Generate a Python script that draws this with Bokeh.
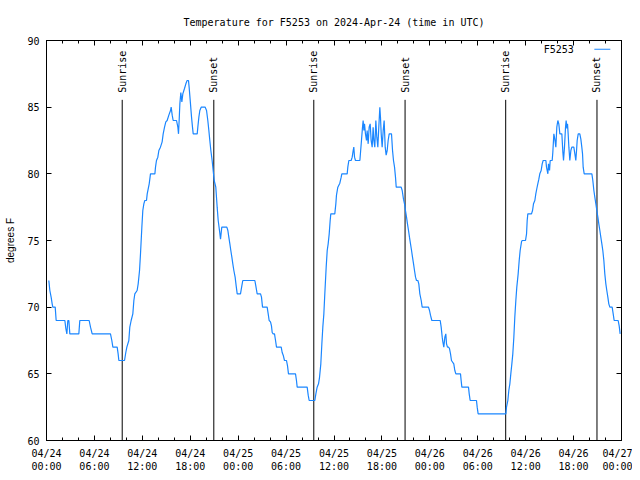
import math
from bokeh.plotting import figure
from bokeh.models import (FixedTicker, LinearAxis, Range1d, Label, BoxAnnotation,
                          CustomJSTickFormatter, ColumnDataSource)
from bokeh.core.properties import value
from bokeh.embed import file_html
from bokeh.resources import INLINE

TITLE = "Temperature for F5253 on 2024-Apr-24 (time in UTC)"
SERIES_NAME = "F5253"
Y_LABEL = "degrees F"

# hours since 2024-04-24 00:00 UTC
HOURS = [
    0.29, 0.42, 0.58, 0.71, 0.79, 1.09, 1.21, 2.30, 2.42, 2.55, 2.67, 2.80, 2.92,
    4.05, 4.17, 5.34, 5.51, 5.72, 8.01, 8.18, 8.31, 8.85, 8.97, 9.06, 9.77, 9.93,
    10.06, 10.31, 10.43, 10.60, 10.81, 10.94, 11.06, 11.35, 11.48, 11.65, 11.77,
    11.94, 12.06, 12.19, 12.31, 12.52, 12.61, 12.86, 13.02, 13.57, 13.65, 13.77,
    13.94, 14.07, 14.27, 14.48, 14.61, 14.78, 14.94, 15.11, 15.32, 15.53, 15.61,
    15.74, 15.86, 16.28, 16.45, 16.53, 16.61, 16.70, 16.82, 16.95, 17.07, 17.28,
    17.45, 17.61, 17.78, 17.86, 18.03, 18.16, 18.28, 18.37, 18.87, 18.95, 19.08,
    19.20, 19.37, 19.87, 20.04, 20.20, 20.33, 20.45, 20.58, 20.74, 20.87, 21.00,
    21.20, 21.37, 21.50, 21.66, 21.79, 21.95, 22.58, 22.71, 22.83, 22.96, 23.08,
    23.21, 23.33, 23.46, 23.62, 23.75, 23.88, 24.29, 24.46, 24.58, 26.09, 26.21,
    26.38, 26.80, 26.92, 27.05, 27.63, 27.76, 27.88, 28.05, 28.17, 28.26, 28.38,
    28.55, 28.68, 28.80, 29.39, 29.51, 29.64, 29.80, 30.05, 30.18, 30.30, 31.18,
    31.30, 31.39, 32.64, 32.77, 32.89, 33.60, 33.73, 33.89, 34.06, 34.18, 34.35,
    34.48, 34.60, 34.73, 34.85, 35.02, 35.15, 35.27, 35.40, 35.52, 35.60, 36.10,
    36.23, 36.31, 36.48, 36.73, 36.90, 36.98, 37.65, 37.73, 37.86, 38.15, 38.28,
    38.40, 38.48, 38.57, 38.69, 39.24, 39.32, 39.44, 39.57, 39.65, 39.74, 39.82,
    39.94, 40.07, 40.15, 40.28, 40.40, 40.53, 40.65, 40.78, 40.90, 40.99, 41.11,
    41.24, 41.36, 41.49, 41.61, 41.74, 41.82, 41.91, 42.03, 42.16, 42.28, 42.41,
    42.53, 42.66, 42.78, 42.91, 43.20, 43.33, 43.45, 43.58, 43.70, 43.79, 44.41,
    44.54, 44.70, 44.83, 44.95, 45.08, 45.20, 45.33, 45.45, 45.58, 45.71, 45.83,
    45.96, 46.08, 46.21, 46.33, 46.50, 46.62, 46.75, 46.92, 47.04, 47.83, 47.96,
    48.08, 48.25, 49.30, 49.42, 49.55, 49.63, 49.75, 49.88, 50.00, 50.09, 50.21,
    50.34, 50.46, 50.59, 50.71, 51.00, 51.13, 51.26, 51.84, 51.92, 52.01, 52.84,
    52.93, 53.05, 53.84, 53.93, 54.05, 57.52, 57.60, 57.77, 57.89, 58.02, 58.14,
    58.27, 58.39, 58.52, 58.64, 58.77, 58.89, 59.06, 59.19, 59.31, 59.48, 59.56,
    59.98, 60.11, 60.19, 60.27, 60.73, 60.86, 60.98, 61.15, 61.27, 61.40, 61.52,
    61.65, 61.77, 61.94, 62.07, 62.19, 62.53, 62.61, 62.78, 62.86, 62.99, 63.07,
    63.32, 63.40, 63.53, 63.65, 63.78, 63.90, 64.03, 64.15, 64.28, 64.53, 64.66,
    64.74, 64.86, 64.99, 65.07, 65.16, 65.24, 65.32, 65.41, 65.53, 65.66, 65.78,
    66.03, 66.16, 66.28, 66.37, 66.45, 66.58, 66.78, 66.91, 67.03, 67.12, 67.20,
    67.33, 68.29, 68.41, 68.54, 68.66, 68.79, 68.91, 69.04, 69.16, 69.29, 69.41,
    69.54, 69.66, 69.79, 69.91, 70.04, 70.16, 70.29, 70.41, 70.54, 70.83, 70.96,
    71.08, 71.58, 71.71, 71.83,
]
TEMP_F = [
    72, 71.25, 70.75, 70.25, 70, 70, 69, 69, 68.4, 68, 69, 69, 68,
    68, 69, 69, 68.5, 68, 68, 67.5, 67, 67, 66.5, 66, 66, 66.6,
    67, 67.5, 68.5, 69, 69.5, 70.5, 71, 71.25, 71.75, 72.75, 74,
    76, 77.25, 77.75, 78, 78, 78.5, 79.25, 80, 80, 80.5, 81,
    81.25, 81.75, 82, 82.4, 83, 83.5, 83.9, 84, 84.4, 84.75, 85,
    84.4, 84, 84, 83.5, 83, 84, 85.25, 86.1, 85.4, 86, 86.4,
    86.75, 87, 87, 86.5, 85.25, 84.25, 83.5, 83, 83, 83.5, 84.25,
    84.75, 85, 85, 84.75, 84, 83.25, 82.5, 81.75, 81, 80.25, 79.5,
    79, 77.5, 76.5, 75.75, 75.1, 76, 76, 75.75, 75.25, 74.75, 74.25,
    73.75, 73.25, 72.75, 72.25, 71.6, 71, 71, 71.6, 72, 72, 71.6,
    71, 71, 70.75, 70, 70, 69.5, 69, 68.9, 68.6, 68.1, 68,
    68, 67.5, 67, 67, 66.6, 66.4, 66, 66, 65.6, 65, 65,
    64.5, 64, 64, 63.4, 63, 63, 63.5, 64, 64.25, 64.7, 65.75,
    67.25, 68.5, 69.5, 71, 73, 74.25, 74.75, 75.5, 76.5, 77, 77,
    77.75, 78.4, 79, 79.3, 79.75, 80, 80, 80.5, 81, 81, 81.25,
    81.75, 82, 81.25, 81, 81, 81.6, 82.5, 83.5, 84, 83.25, 83.75,
    83, 82.5, 83.25, 82.25, 83.5, 83.75, 82.5, 82, 83.5, 82.5, 82,
    84, 82.75, 82, 83.5, 85, 84.25, 83, 82, 83.25, 84, 82,
    81.4, 81.75, 82.5, 83, 83, 81.75, 81, 80.5, 79.75, 79, 79,
    78.75, 78.1, 77.75, 77.25, 76.75, 76.25, 75.75, 75.25, 74.75, 74.25, 73.75,
    73.25, 72.75, 72.25, 72, 72, 71.75, 71, 70.5, 70, 70, 69.75,
    69.4, 69, 69, 68.5, 67.75, 67.4, 67, 67.75, 68, 67.25, 67,
    67, 66.9, 66.5, 66, 65.75, 65.25, 65, 65, 64.5, 64, 64,
    63.5, 63, 63, 62.5, 62, 62, 62.5, 63, 63.75, 64.25, 65,
    65.75, 66.5, 67.75, 69.25, 70.5, 71.5, 72.5, 73.5, 74.25, 74.9, 75,
    75, 75.5, 76.5, 77, 77, 77.25, 77.75, 78, 78.5, 78.9, 79.25,
    79.6, 80, 80.25, 80.75, 81, 81, 80.5, 80, 80.75, 80.25, 81,
    81, 81.6, 83, 82.6, 82, 83.5, 84, 83.75, 83, 83, 81.6,
    81, 82, 83.5, 84, 83.4, 83.75, 83, 82, 81, 81.75, 82,
    82, 81.5, 81, 81.75, 82.5, 83, 83, 82.6, 82, 81.5, 80.5,
    80, 80, 79.5, 78.75, 78.25, 77.75, 77.25, 76.75, 76.25, 75.75, 75.25,
    74.75, 74.25, 73.5, 72.5, 71.75, 71.25, 70.75, 70.25, 70, 70, 69.5,
    69, 69, 68.6, 68,
]

SUNRISE_HOURS = [9.48, 33.47, 57.50]
SUNSET_HOURS = [20.95, 44.90, 68.93]

X_TICKS = [0, 6, 12, 18, 24, 30, 36, 42, 48, 54, 60, 66, 72]
X_MINOR_TICKS = list(range(0, 73, 2))
X_TICK_LABELS = [
    "04/24\n00:00", "04/24\n06:00", "04/24\n12:00", "04/24\n18:00",
    "04/25\n00:00", "04/25\n06:00", "04/25\n12:00", "04/25\n18:00",
    "04/26\n00:00", "04/26\n06:00", "04/26\n12:00", "04/26\n18:00",
    "04/27\n00:00",
]
Y_TICKS = [60, 65, 70, 75, 80, 85, 90]

BLUE = "#1a86ff"
MONO = "DejaVu Sans Mono"
LINE_TOP = 85.55

p = figure(width=632, height=476,
           x_range=Range1d(0, 72), y_range=Range1d(60, 90),
           output_backend="svg", toolbar_location=None,
           min_border_left=46, min_border_right=11,
           min_border_top=40, min_border_bottom=36,
           title=TITLE)
p.title.text_font = MONO
p.title.text_font_size = "10px"
p.title.text_font_style = "normal"
p.title.align = "center"
p.title.text_color = "black"
p.title.standoff = 25
p.xgrid.visible = False
p.ygrid.visible = False
p.outline_line_color = "black"
p.outline_line_alpha = 1
p.background_fill_color = "white"
p.border_fill_color = "white"

def style_axis(ax, major_in, minor_in):
    ax.major_tick_in = major_in
    ax.major_tick_out = 0
    ax.minor_tick_in = minor_in
    ax.minor_tick_out = 0
    ax.axis_line_color = "black"
    ax.major_tick_line_color = "black"
    ax.minor_tick_line_color = "black"
    ax.major_label_text_font = MONO
    ax.major_label_text_font_size = "10px"
    ax.major_label_text_color = "black"

xt = FixedTicker(ticks=X_TICKS, minor_ticks=X_MINOR_TICKS)
yt = FixedTicker(ticks=Y_TICKS, minor_ticks=[])

xa = p.xaxis[0]
xa.ticker = xt
xa.major_label_overrides = {t: lab for t, lab in zip(X_TICKS, X_TICK_LABELS)}
style_axis(xa, 5, 3)
xa.major_label_standoff = 7

ya = p.yaxis[0]
ya.ticker = yt
style_axis(ya, 5, 0)
ya.major_label_standoff = 7
ya.axis_label = Y_LABEL
ya.axis_label_text_font = "Liberation Sans"
ya.axis_label_text_font_size = "10px"
ya.axis_label_text_font_style = "normal"
ya.axis_label_text_color = "black"
ya.axis_label_standoff = 8

blank = "return ''"
top = LinearAxis(ticker=xt, formatter=CustomJSTickFormatter(code=blank))
style_axis(top, 5, 3)
top.major_label_standoff = 0
top.major_label_text_font_size = "1px"
p.add_layout(top, "above")

right = LinearAxis(ticker=yt, formatter=CustomJSTickFormatter(code=blank))
style_axis(right, 5, 0)
right.major_label_standoff = 0
right.major_label_text_font_size = "1px"
p.add_layout(right, "right")

# sunrise / sunset markers
sun_x = SUNRISE_HOURS + SUNSET_HOURS
sun_txt = ["Sunrise"] * len(SUNRISE_HOURS) + ["Sunset"] * len(SUNSET_HOURS)
sun_src = ColumnDataSource(dict(x=sun_x, y0=[60] * len(sun_x),
                                y1=[LINE_TOP] * len(sun_x), t=sun_txt))
p.segment(x0="x", y0="y0", x1="x", y1="y1", source=sun_src,
          line_color="black", line_width=1)
p.text(x="x", y="y1", text="t", source=sun_src, angle=math.pi / 2,
       text_align="left", text_baseline="middle", y_offset=-7,
       text_font=value(MONO), text_font_size="10px", text_color="black")

# data series
p.line(HOURS, TEMP_F, line_color=BLUE, line_width=1.2)

# key (text then sample line)
p.add_layout(Label(x=66.03, y=89.35, text=SERIES_NAME, text_align="right",
                   text_baseline="middle", text_font=MONO,
                   text_font_size="10px", text_color="black"))
p.add_layout(BoxAnnotation(left=68.6, right=70.6, bottom=89.31, top=89.39,
                           fill_color=BLUE, fill_alpha=1, line_color=None))

open("out.html", "w").write(file_html(p, INLINE))
